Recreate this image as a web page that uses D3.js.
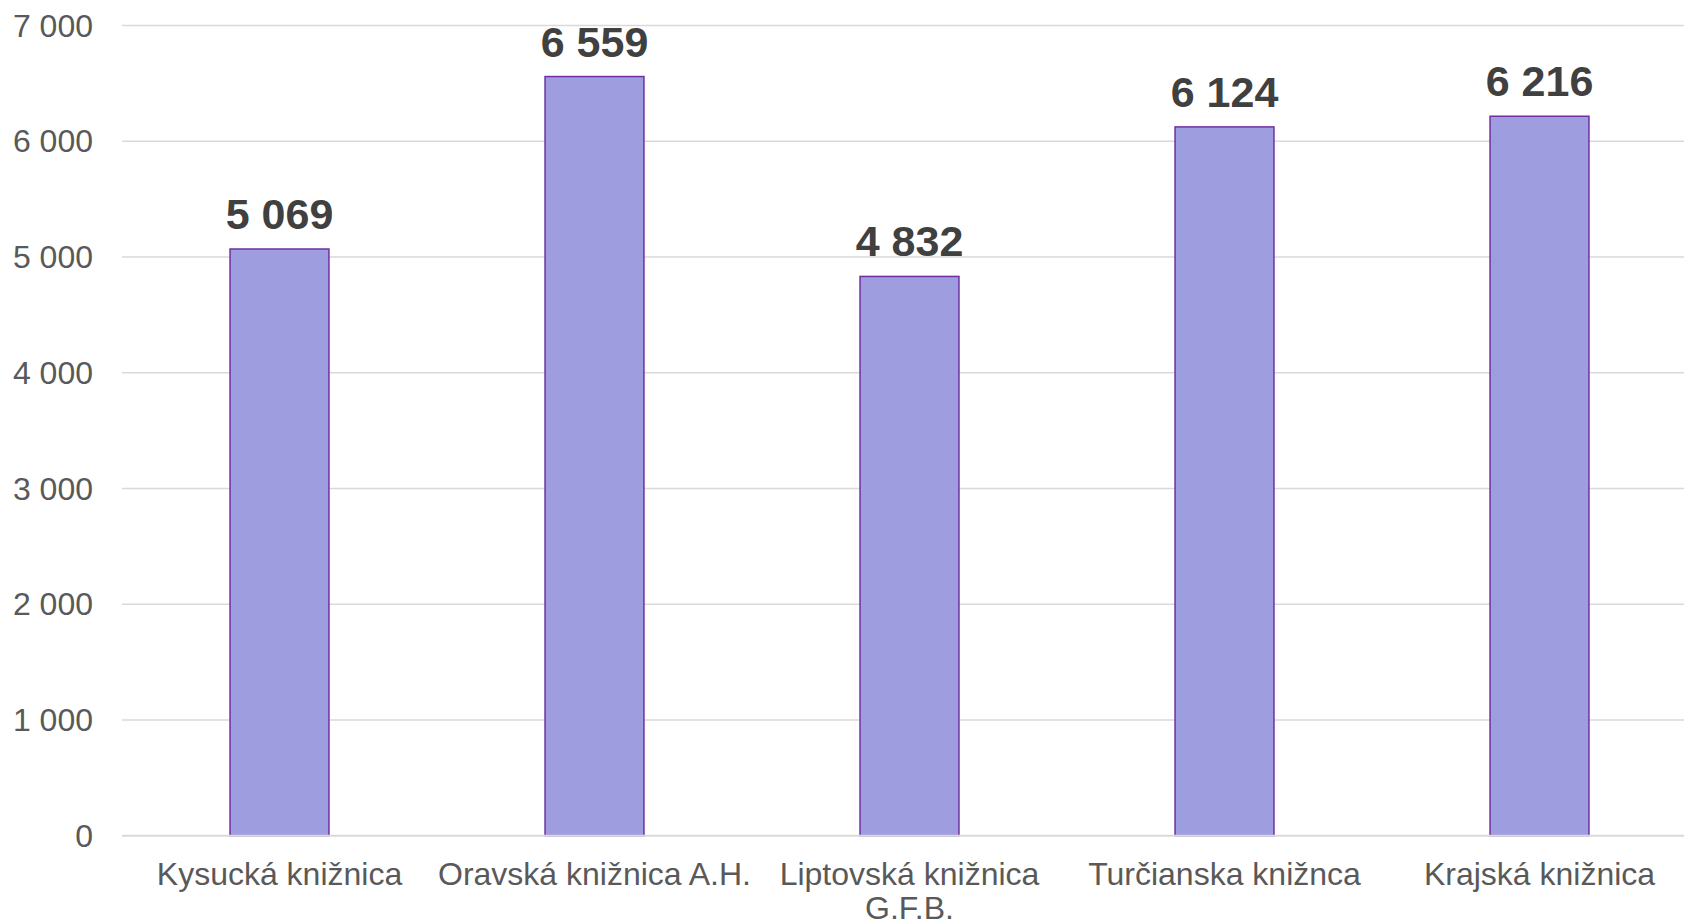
<!DOCTYPE html>
<html>
<head>
<meta charset="utf-8">
<script src="https://cdn.jsdelivr.net/npm/d3@7"></script>
<style>
  body { margin: 0; background: #fff; overflow: hidden; }
  text { font-family: "Liberation Sans", Arial, sans-serif; }
</style>
</head>
<body>
<div id="chart-area"></div>
<script>
// data
const libraries = ["Kysucká knižnica", "Oravská knižnica A.H.", "Liptovská knižnica G.F.B.", "Turčianska knižnca", "Krajská knižnica"];
const values = [5069, 6559, 4832, 6124, 6216];
const yTicks = [0, 1000, 2000, 3000, 4000, 5000, 6000, 7000];

const W = 1684, H = 923;
// plot runs a bit past the right edge, like in the original
const plot = { left: 122, right: 1697, top: 25.5, bottom: 835.7 };

const fmt = (v) => d3.format(",")(v).replace(/,/g, " ");

const svg = d3.select("#chart-area")
  .append("svg")
    .attr("width", W)
    .attr("height", H);

const xScale = d3.scaleBand()
  .domain(libraries)
  .range([plot.left, plot.right])
  .paddingInner(0.686)
  .paddingOuter(0.343);

const yScale = d3.scaleLinear()
  .domain([0, 7000])
  .range([plot.bottom, plot.top]);

// gridlines
svg.append("g")
  .selectAll("line")
  .data(yTicks.filter(d => d > 0))
  .enter().append("line")
    .attr("x1", plot.left)
    .attr("x2", W)
    .attr("y1", d => yScale(d))
    .attr("y2", d => yScale(d))
    .attr("stroke", "#d9d9d9")
    .attr("stroke-width", 1.5);

// y tick labels
svg.append("g")
  .selectAll("text")
  .data(yTicks)
  .enter().append("text")
    .attr("x", 93)
    .attr("y", d => yScale(d))
    .attr("dy", "0.35em")
    .attr("text-anchor", "end")
    .attr("font-size", 32)
    .attr("fill", "#595959")
    .text(d => fmt(d));

// bars
svg.append("g")
  .selectAll("rect")
  .data(values)
  .enter().append("rect")
    .attr("x", (d, i) => xScale(libraries[i]))
    .attr("y", d => yScale(d))
    .attr("width", xScale.bandwidth())
    .attr("height", d => yScale(0) - yScale(d))
    .attr("fill", "#9e9ddf")
    .attr("stroke", "#7030a0")
    .attr("stroke-width", 1.5);

// baseline drawn over the bars
svg.append("line")
  .attr("x1", plot.left)
  .attr("x2", W)
  .attr("y1", yScale(0))
  .attr("y2", yScale(0))
  .attr("stroke", "#d9d9d9")
  .attr("stroke-width", 2);

// value labels
svg.append("g")
  .selectAll("text")
  .data(values)
  .enter().append("text")
    .attr("x", (d, i) => xScale(libraries[i]) + xScale.bandwidth() / 2)
    .attr("y", d => yScale(d) - 20)
    .attr("text-anchor", "middle")
    .attr("font-size", 43)
    .attr("font-weight", "bold")
    .attr("fill", "#404040")
    .text(d => fmt(d));

// category labels, wrapped when wider than the band step (plus a little slack)
const catLabels = svg.append("g")
  .selectAll("text")
  .data(libraries)
  .enter().append("text")
    .attr("x", d => xScale(d) + xScale.bandwidth() / 2)
    .attr("y", 885)
    .attr("text-anchor", "middle")
    .attr("font-size", 32)
    .attr("fill", "#595959");

catLabels.each(function(d) {
  const el = d3.select(this);
  const x = el.attr("x");
  const words = d.split(" ");
  const maxW = xScale.step() + 25;
  let line = [];
  let tspan = el.append("tspan").attr("x", x).attr("dy", 0);
  words.forEach((w) => {
    line.push(w);
    tspan.text(line.join(" "));
    if (tspan.node().getComputedTextLength() > maxW && line.length > 1) {
      line.pop();
      tspan.text(line.join(" "));
      line = [w];
      tspan = el.append("tspan").attr("x", x).attr("dy", 34).text(w);
    }
  });
});
</script>
</body>
</html>
